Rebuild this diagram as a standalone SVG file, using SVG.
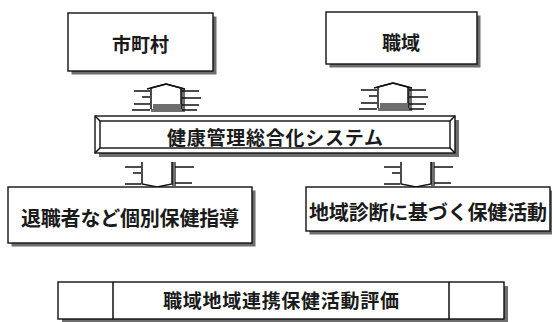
<svg xmlns="http://www.w3.org/2000/svg" xmlns:xlink="http://www.w3.org/1999/xlink" width="552" height="322" viewBox="0 0 552 322">
<style>
.box{fill:#fff;stroke:#111;stroke-width:1.4}
.shd{fill:#6e6e6e}
.ln{stroke:#111;stroke-width:1.5;fill:none}
.t{font-family:"Noto Sans CJK JP","Noto Sans CJK SC",sans-serif;font-size:19px;font-weight:bold;fill:#1a1a1a;text-anchor:middle;dominant-baseline:central}
.t2{font-size:20px}
</style>
<defs>
<g id="upArrow">
<rect class="shd" x="30" y="4" width="4" height="24"/>
<rect class="shd" x="0" y="21" width="33" height="7"/>
<path d="M0,25 L0,4 L15,0 L30,4 L30,25" fill="#fff" stroke="#111" stroke-width="1.5"/>
<path d="M-4,5 L15,0 L34,5" class="ln"/>
<rect class="shd" x="2" y="20" width="28" height="6"/>
<path class="ln" d="M-17,7 H-1 M-9,13 H-1 M-17,20 H-1 M-19,26 H-1 M31,7 H48 M31,14 H50 M31,21 H48 M31,26 H46"/>
</g>
<g id="downArrow">
<rect class="shd" x="30" y="0" width="4" height="24"/>
<path d="M0,0 L0,22 L15,25 L30,22 L30,0" fill="#fff" stroke="#111" stroke-width="1.5"/>
<path class="ln" d="M-17,5 H-1 M-9,11 H-1 M-17,22 H-1 M33,5 H52 M33,21 H50"/>
</g>
</defs>

<g id="connectors">
<use xlink:href="#upArrow" href="#upArrow" transform="translate(151,84)"/>
<use xlink:href="#upArrow" href="#upArrow" transform="translate(378,83)"/>
<use xlink:href="#downArrow" href="#downArrow" transform="translate(142,162)"/>
<use xlink:href="#downArrow" href="#downArrow" transform="translate(401,162)"/>
</g>

<g id="node-shichoson">
<rect class="shd" x="71.5" y="16.5" width="145" height="58"/>
<rect class="box" x="68" y="13" width="145" height="58"/>
<text class="t" x="140.5" y="43">市町村</text>
</g>

<g id="node-shokuiki">
<rect class="shd" x="329.5" y="15.5" width="151" height="52"/>
<rect class="box" x="326" y="12" width="151" height="52"/>
<text class="t" x="401" y="41">職域</text>
</g>

<g id="node-system">
<rect class="shd" x="99" y="120" width="360" height="37"/>
<rect class="box" x="95" y="116" width="360" height="37"/>
<rect class="box" x="100" y="121" width="350" height="27"/>
<path class="ln" d="M95,116 L100,121 M455,116 L450,121 M95,153 L100,148 M455,153 L450,148"/>
<text class="t" x="275" y="136" textLength="216" lengthAdjust="spacing">健康管理総合化システム</text>
</g>

<g id="node-taishokusha">
<rect class="shd" x="11.5" y="190.5" width="244" height="56"/>
<rect class="box" x="8" y="187" width="244" height="56"/>
<text class="t t2" x="130" y="217" textLength="218" lengthAdjust="spacing">退職者など個別保健指導</text>
</g>

<g id="node-chiikishindan">
<rect class="shd" x="309.5" y="190.5" width="244" height="44"/>
<rect class="box" x="306" y="187" width="244" height="44"/>
<text class="t t2" x="428" y="211" textLength="238" lengthAdjust="spacing">地域診断に基づく保健活動</text>
</g>

<g id="node-hyoka">
<rect class="shd" x="62" y="286" width="446" height="40"/>
<rect class="box" x="58" y="282" width="446" height="37"/>
<path class="ln" d="M113,282 V319 M449,282 V319"/>
<text class="t" x="281" y="299" textLength="236" lengthAdjust="spacing">職域地域連携保健活動評価</text>
</g>
</svg>
